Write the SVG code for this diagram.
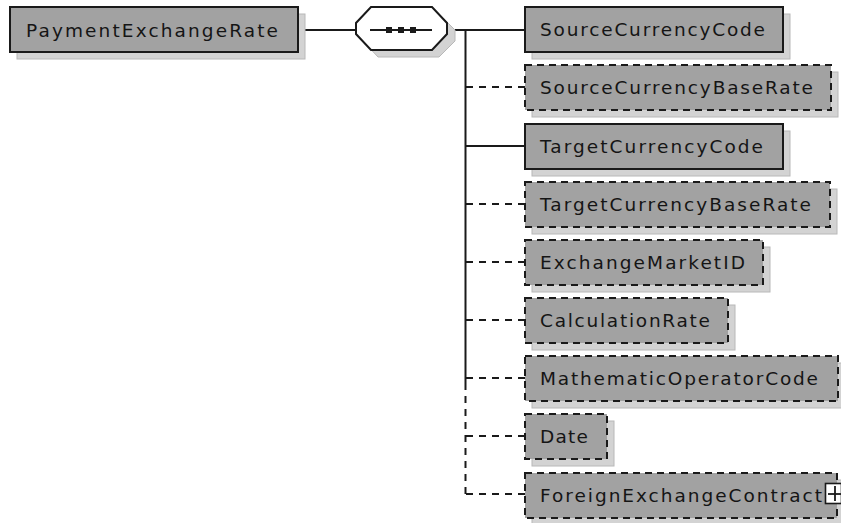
<svg xmlns="http://www.w3.org/2000/svg" width="841" height="523" viewBox="0 0 841 523">
<style>
.bg{fill:#ffffff}
.sh{fill:#d3d3d3;stroke:#b8b8b8;stroke-width:1}
.box{fill:#a2a2a2;stroke:#1a1a1a;stroke-width:2}
.opt{fill:#a2a2a2;stroke:#1a1a1a;stroke-width:2;stroke-dasharray:7 5}
.t{font-family:"DejaVu Sans",Verdana,sans-serif;font-size:18.5px;fill:#151515}
.ln{fill:none;stroke:#1a1a1a;stroke-width:2}
.dl{fill:none;stroke:#1a1a1a;stroke-width:2;stroke-dasharray:7 6}
</style>
<rect class="bg" x="0" y="0" width="841" height="523"/>
<g id="connectors">
<line class="ln" x1="298" y1="30" x2="356" y2="30"/>
<line class="ln" x1="447" y1="30" x2="525" y2="30"/>
<line class="ln" x1="465.5" y1="30" x2="465.5" y2="383"/>
<path class="dl" d="M465.5 383 V494"/>
<line class="dl" x1="466" y1="87" x2="525" y2="87"/>
<line class="ln" x1="465" y1="146" x2="525" y2="146"/>
<line class="dl" x1="466" y1="204" x2="525" y2="204"/>
<line class="dl" x1="466" y1="262" x2="525" y2="262"/>
<line class="dl" x1="466" y1="320" x2="525" y2="320"/>
<line class="dl" x1="466" y1="378" x2="525" y2="378"/>
<line class="dl" x1="466" y1="436" x2="525" y2="436"/>
<line class="dl" x1="466" y1="494" x2="525" y2="494"/>
</g>
<g id="PaymentExchangeRate">
<rect class="sh" x="17" y="14" width="288" height="45"/>
<rect class="box" x="10" y="7" width="288" height="45"/>
<text class="t" x="26" y="37" textLength="252" lengthAdjust="spacing">PaymentExchangeRate</text>
</g>
<g id="sequence">
<polygon points="378,14 439,14 455,30 455,41 439,57 378,57 363,41 363,30" fill="#d3d3d3" stroke="#b8b8b8" stroke-width="1"/>
<polygon points="371,7 432,7 447,23 447,34 432,50 371,50 356,34 356,23" fill="#ffffff" stroke="#1a1a1a" stroke-width="2"/>
<line class="ln" x1="370" y1="30" x2="432" y2="30"/>
<rect x="386" y="27" width="6" height="6" fill="#1a1a1a"/>
<rect x="398" y="27" width="6" height="6" fill="#1a1a1a"/>
<rect x="410" y="27" width="6" height="6" fill="#1a1a1a"/>
</g>
<g id="SourceCurrencyCode">
<rect class="sh" x="532" y="14" width="258" height="45"/>
<rect class="box" x="525" y="7" width="258" height="45"/>
<text class="t" x="540" y="36" textLength="225" lengthAdjust="spacing">SourceCurrencyCode</text>
</g>
<g id="SourceCurrencyBaseRate">
<rect class="sh" x="532" y="72" width="306" height="45"/>
<rect class="opt" x="525" y="65" width="306" height="45"/>
<text class="t" x="540" y="94" textLength="273" lengthAdjust="spacing">SourceCurrencyBaseRate</text>
</g>
<g id="TargetCurrencyCode">
<rect class="sh" x="532" y="131" width="258" height="45"/>
<rect class="box" x="525" y="124" width="258" height="45"/>
<text class="t" x="540" y="153" textLength="223" lengthAdjust="spacing">TargetCurrencyCode</text>
</g>
<g id="TargetCurrencyBaseRate">
<rect class="sh" x="532" y="189" width="305" height="45"/>
<rect class="opt" x="525" y="182" width="305" height="45"/>
<text class="t" x="540" y="211" textLength="271" lengthAdjust="spacing">TargetCurrencyBaseRate</text>
</g>
<g id="ExchangeMarketID">
<rect class="sh" x="532" y="247" width="238" height="45"/>
<rect class="opt" x="525" y="240" width="238" height="45"/>
<text class="t" x="540" y="269" textLength="205" lengthAdjust="spacing">ExchangeMarketID</text>
</g>
<g id="CalculationRate">
<rect class="sh" x="532" y="305" width="203" height="45"/>
<rect class="opt" x="525" y="298" width="203" height="45"/>
<text class="t" x="540" y="327" textLength="170" lengthAdjust="spacing">CalculationRate</text>
</g>
<g id="MathematicOperatorCode">
<rect class="sh" x="532" y="363" width="313" height="45"/>
<rect class="opt" x="525" y="356" width="313" height="45"/>
<text class="t" x="540" y="385" textLength="278" lengthAdjust="spacing">MathematicOperatorCode</text>
</g>
<g id="Date">
<rect class="sh" x="532" y="421" width="82" height="45"/>
<rect class="opt" x="525" y="414" width="82" height="45"/>
<text class="t" x="540" y="443" textLength="48" lengthAdjust="spacing">Date</text>
</g>
<g id="ForeignExchangeContract">
<rect class="sh" x="532" y="480" width="312" height="45"/>
<rect class="opt" x="525" y="473" width="312" height="45"/>
<text class="t" x="540" y="502" textLength="282" lengthAdjust="spacing">ForeignExchangeContract</text>
<rect x="825.5" y="483.5" width="16" height="20" fill="#ffffff" stroke="#1a1a1a" stroke-width="1.6"/>
<line x1="828" y1="494" x2="841" y2="494" stroke="#1a1a1a" stroke-width="1.8"/>
<line x1="835" y1="486" x2="835" y2="501" stroke="#1a1a1a" stroke-width="1.8"/>
</g>
</svg>
